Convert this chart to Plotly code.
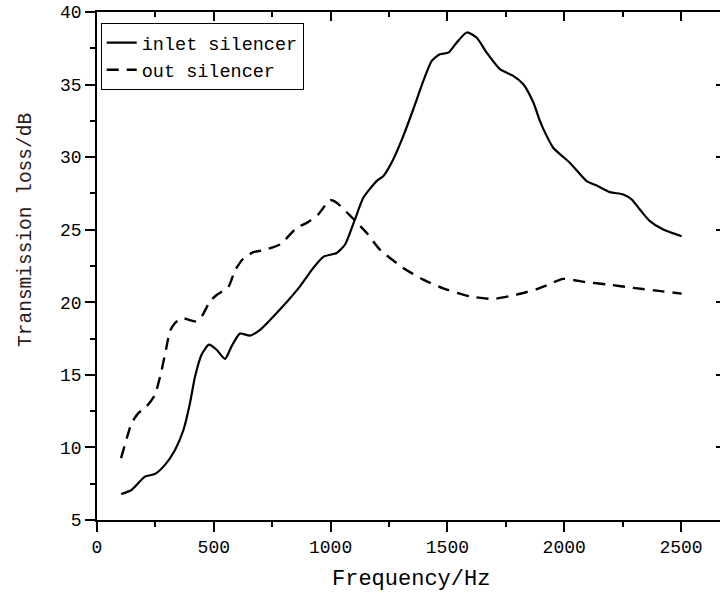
import plotly.graph_objects as go

# Data
inlet_freq = [103, 148, 205, 248, 291, 334, 370, 398, 420, 448, 479, 512, 548, 576,
              612, 655, 698, 783, 869, 926, 969, 1026, 1062, 1104, 1140, 1197, 1226,
              1268, 1311, 1354, 1397, 1433, 1468, 1504, 1540, 1583, 1625, 1668, 1725,
              1782, 1825, 1868, 1896, 1918, 1953, 2025, 2096, 2139, 2196, 2253, 2289,
              2324, 2367, 2424, 2503]
inlet_tl = [6.79, 7.07, 7.99, 8.17, 8.8, 9.83, 11.2, 13.05, 14.9, 16.4, 17.08, 16.73,
            16.1, 16.96, 17.84, 17.7, 18.1, 19.5, 21.1, 22.37, 23.13, 23.4, 23.98, 25.7,
            27.2, 28.35, 28.7, 29.84, 31.45, 33.3, 35.25, 36.63, 37.09, 37.2, 37.9,
            38.59, 38.24, 37.2, 36.06, 35.6, 35.02, 33.76, 32.5, 31.69, 30.65, 29.6,
            28.35, 28.05, 27.59, 27.43, 27.08, 26.39, 25.59, 25.01, 24.55]

out_freq = [103, 134, 148, 177, 212, 248, 277, 298, 312, 334, 362, 420, 448, 484, 512,
            562, 591, 626, 669, 712, 783, 855, 898, 947, 997, 1026, 1083, 1154, 1211,
            1311, 1397, 1497, 1597, 1696, 1797, 1882, 1925, 1996, 2089, 2189, 2296,
            2396, 2503]
out_tl = [9.26, 10.98, 11.67, 12.36, 12.82, 13.63, 15.35, 16.96, 18.0, 18.57, 18.92,
          18.69, 19.03, 20.07, 20.5, 21.05, 22.2, 23.0, 23.45, 23.59, 23.98, 25.13,
          25.47, 26.05, 27.04, 26.86, 25.98, 24.79, 23.63, 22.37, 21.56, 20.87, 20.41,
          20.23, 20.53, 20.9, 21.17, 21.61, 21.4, 21.22, 20.99, 20.8, 20.6]

x_ticks = [0, 500, 1000, 1500, 2000, 2500]
y_ticks = [5, 10, 15, 20, 25, 30, 35, 40]

FONT = "Liberation Mono"

fig = go.Figure()
fig.add_trace(go.Scatter(x=inlet_freq, y=inlet_tl, mode="lines", name="inlet silencer",
                         line=dict(color="black", width=2.2, shape="spline", smoothing=0.6)))
fig.add_trace(go.Scatter(x=out_freq, y=out_tl, mode="lines", name="out silencer",
                         line=dict(color="black", width=2.4, dash="12px,8px",
                                   shape="spline", smoothing=0.6)))
# invisible trace to activate mirror axes
fig.add_trace(go.Scatter(x=[0], y=[5], xaxis="x2", yaxis="y2", mode="markers",
                         marker=dict(opacity=0), showlegend=False, hoverinfo="skip"))

common = dict(showgrid=False, zeroline=False, linecolor="black", linewidth=1.5,
              tickcolor="black", tickwidth=1.5, automargin=False)

fig.update_layout(
    width=720, height=597,
    margin=dict(l=97, r=0, t=12, b=77, autoexpand=False),
    paper_bgcolor="white", plot_bgcolor="white",
    font=dict(family=FONT, color="black", size=18),
    showlegend=True,
    legend=dict(x=0.006, y=0.978, xanchor="left", yanchor="top",
                bordercolor="black", borderwidth=1, bgcolor="white",
                font=dict(family=FONT, size=18.5, color="black"),
                tracegroupgap=0, itemwidth=30),
    xaxis=dict(range=[0, 2667], tickvals=x_ticks, ticktext=[str(v) for v in x_ticks],
               ticks="outside", ticklen=10, showline=True,
               minor=dict(dtick=250, ticklen=5, ticks="outside", tickcolor="black", tickwidth=1.5),
               tickfont=dict(family=FONT, size=18), **common),
    yaxis=dict(range=[5, 40], tickvals=y_ticks, ticktext=[str(v) for v in y_ticks],
               ticks="outside", ticklen=10, showline=True,
               minor=dict(dtick=2.5, ticklen=5, ticks="outside", tickcolor="black", tickwidth=1.5),
               tickfont=dict(family=FONT, size=18), **common),
    xaxis2=dict(range=[0, 2667], overlaying="x", side="top", tickvals=x_ticks,
                showticklabels=False, ticks="inside", ticklen=9, showline=True,
                minor=dict(dtick=250, ticklen=5, ticks="inside", tickcolor="black", tickwidth=1.5),
                **common),
    yaxis2=dict(range=[5, 40], overlaying="y", side="right", tickvals=y_ticks,
                showticklabels=False, ticks="inside", ticklen=4, showline=False,
                **common),
    annotations=[
        dict(text="Frequency/Hz", x=0.504, y=-0.118, xref="paper", yref="paper",
             xanchor="center", yanchor="middle", showarrow=False,
             font=dict(family=FONT, size=22, color="black")),
        dict(text="Transmission loss/dB", x=-0.114, y=0.571, xref="paper", yref="paper",
             xanchor="center", yanchor="middle", showarrow=False, textangle=-90,
             font=dict(family=FONT, size=19.5, color="#2a1a1a")),
    ],
)

fig.write_html("out.html", config={"displayModeBar": False},
               post_script="document.body.style.margin='0';document.body.style.padding='0';")
